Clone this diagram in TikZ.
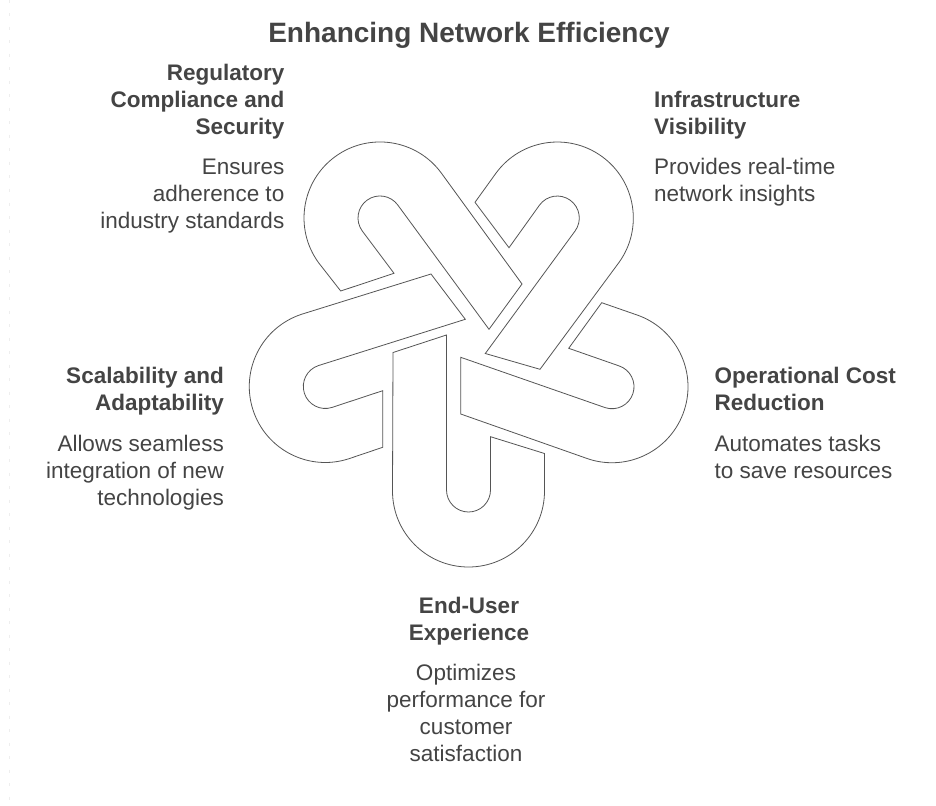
\documentclass[tikz,border=0pt]{standalone}
\usepackage{fontspec}
\setmainfont{Liberation Sans}
\definecolor{txt}{HTML}{444444}
\definecolor{edge}{HTML}{555555}
\definecolor{faint}{HTML}{EEEEEE}
\tikzset{
  link/.style={draw=edge,line width=0.8pt,fill=white,line join=miter},
  heading/.style={inner sep=0pt,text=txt,font=\fontsize{22.5}{27}\selectfont\bfseries},
  body/.style={inner sep=0pt,text=txt,font=\fontsize{22.5}{27}\selectfont},
  titletext/.style={inner sep=0pt,text=txt,font=\fontsize{28}{33}\selectfont\bfseries}
}
\begin{document}
\begin{tikzpicture}[x=1pt,y=-1pt]
\useasboundingbox (0,0) rectangle (936,805);
\fill[white] (0,0) rectangle (936,805);
\coordinate (ruleA) at (9.3,0);
\coordinate (ruleB) at (9.3,805);
\draw[faint,line width=0.8pt,dash pattern=on 3pt off 10.5pt] (ruleA) -- (ruleB);
% bottom link
\path[link] (393,352.5) -- (392.5,491) arc[start angle=180,end angle=0,radius=76]
  -- (544.5,453.5) -- (490.5,436.7) -- (490.5,490) arc[start angle=0,end angle=180,radius=22]
  -- (446.5,335) -- cycle;
% right link
\path[link] (460.7,414) -- (588.5,459) arc[start angle=108,end angle=-72,radius=76]
  -- (601.7,302.7) -- (568.7,348.3) -- (618.8,365.8) arc[start angle=-72,end angle=108,radius=22]
  -- (460.7,357.3) -- cycle;
% top right link
\path[link] (540,369.3) -- (618.8,262.7) arc[start angle=36,end angle=-144,radius=76]
  -- (475,202.3) -- (509,247.7) -- (539.5,205.1) arc[start angle=-144,end angle=36,radius=22]
  -- (485.3,353.5) -- cycle;
% top left link
\path[link] (522,284) -- (441.5,173.3) arc[start angle=-36,end angle=-216,radius=76]
  -- (340.7,291) -- (394,273.3) -- (362.2,230.9) arc[start angle=144,end angle=324,radius=22]
  -- (489,329.3) -- cycle;
% left link
\path[link] (431,274) -- (301.8,314.2) arc[start angle=-108,end angle=-288,radius=76]
  -- (382.7,447.3) -- (382.7,390.7) -- (332.1,407.4) arc[start angle=72,end angle=252,radius=22]
  -- (465.3,319.3) -- cycle;
\node[titletext,anchor=center] (title) at (469,35.5) {Enhancing Network Efficiency};
\node[heading,anchor=north east,align=right] (regH) at (284.5,61.8) {\strut Regulatory\\Compliance and\\Security};
\node[body,anchor=north east,align=right] (regB) at (284.5,155.8) {\strut Ensures\\adherence to\\industry standards};
\node[heading,anchor=north west,align=left] (infH) at (654,88.8) {\strut Infrastructure\\Visibility};
\node[body,anchor=north west,align=left] (infB) at (654,155.8) {\strut Provides real-time\\network insights};
\node[heading,anchor=north west,align=left] (opH) at (714.5,364.8) {\strut Operational Cost\\Reduction};
\node[body,anchor=north west,align=left] (opB) at (714.5,432.8) {\strut Automates tasks\\to save resources};
\node[heading,anchor=north east,align=right] (scH) at (224,364.8) {\strut Scalability and\\Adaptability};
\node[body,anchor=north east,align=right] (scB) at (224,432.8) {\strut Allows seamless\\integration of new\\technologies};
\node[heading,anchor=north,align=center] (enH) at (469,594.8) {\strut End-User\\Experience};
\node[body,anchor=north,align=center] (enB) at (466,661.8) {\strut Optimizes\\performance for\\customer\\satisfaction};
\end{tikzpicture}
\end{document}
